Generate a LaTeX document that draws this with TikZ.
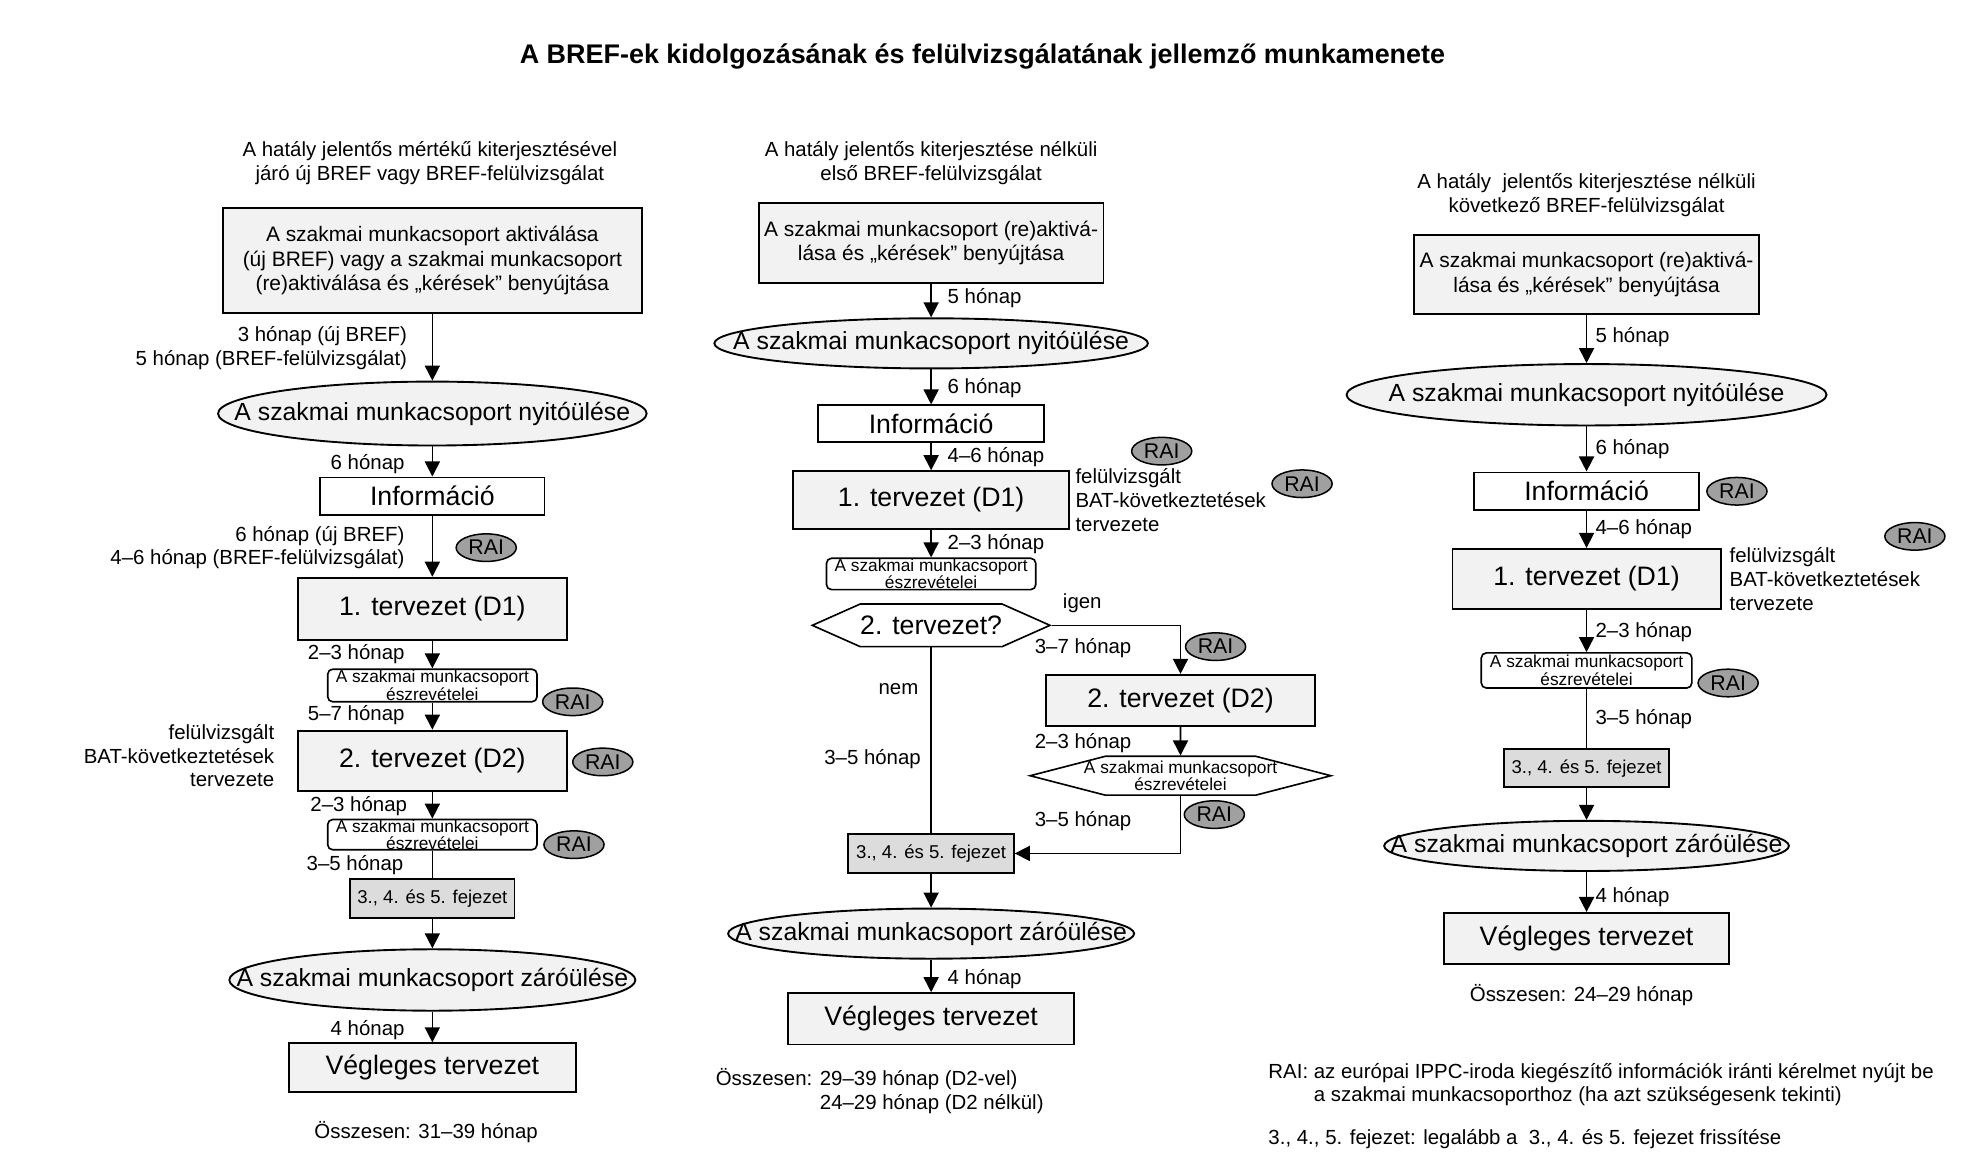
\documentclass[tikz,border=0pt]{standalone}
\usepackage{fontspec}
\setmainfont{Liberation Sans}
\usetikzlibrary{shapes.geometric,shapes.symbols,arrows.meta}
\definecolor{boxgray}{HTML}{F2F2F2}
\definecolor{chapgray}{HTML}{DCDCDC}
\definecolor{raigray}{HTML}{A0A0A0}

\begin{document}
\begin{tikzpicture}[x=1pt,y=-1pt]
            \tikzstyle{every node}=[inner sep=0pt]
            \tikzstyle{lbl}=[font=\fontsize{16.3}{19}\selectfont]
            \tikzstyle{box}=[draw,line width=1.5pt,fill=boxgray,font=\fontsize{21.3}{24}\selectfont]
            \tikzstyle{startbox}=[box,align=center,font=\fontsize{16.7}{19.5}\selectfont]
            \tikzstyle{infobox}=[box,fill=white]
            \tikzstyle{meeting}=[ellipse,draw,line width=1.5pt,fill=boxgray,inner xsep=-50pt,font=\fontsize{19.8}{23}\selectfont]
            \tikzstyle{remarks}=[draw,line width=1.3pt,rounded corners=4pt,fill=white,align=center,font=\fontsize{13.8}{10.5}\selectfont]
            \tikzstyle{chapters}=[draw,line width=1.5pt,fill=chapgray,font=\fontsize{14.8}{17}\selectfont]
            \tikzstyle{rai}=[ellipse,draw,line width=1.2pt,fill=raigray,minimum width=48pt,minimum height=22pt,font=\fontsize{17}{19}\selectfont]
            \tikzstyle{hexa}=[signal,signal to=east and west,draw,line width=1.3pt,fill=white,align=center]
            \tikzstyle{arr}=[line width=1.3pt,-{Triangle[length=12pt,width=12pt]}]
            \tikzstyle{con}=[line width=1.3pt]
            \useasboundingbox (0,0) rectangle (1568,936);
            \node[font=\bfseries\fontsize{21.5}{24}\selectfont] (title) at (784,45) {A BREF-ek kidolgozásának és felülvizsgálatának jellemző munkamenete};

            \node[lbl,align=center] (ahead) at (343,130) {A hatály jelentős mértékű kiterjesztésével\\járó új BREF vagy BREF-felülvizsgálat};
            \node[startbox,minimum width=334pt,minimum height=84pt] (a1) at (345,208) {A szakmai munkacsoport aktiválása\\(új BREF) vagy a szakmai munkacsoport\\(re)aktiválása és „kérések” benyújtása};
            \node[meeting,minimum width=342pt,minimum height=51pt] (a2) at (345,330) {A szakmai munkacsoport nyitóülése};
            \node[infobox,minimum width=179pt,minimum height=30pt] (a3) at (345,396) {Információ};
            \node[box,minimum width=215pt,minimum height=50pt] (a4) at (345,486) {1. tervezet (D1)};
            \node[remarks,minimum width=167pt,minimum height=26pt] (a5) at (345,547) {A szakmai munkacsoport\\észrevételei};
            \node[box,minimum width=215pt,minimum height=48pt] (a6) at (345,607) {2. tervezet (D2)};
            \node[remarks,minimum width=167pt,minimum height=23pt] (a7) at (345,666) {A szakmai munkacsoport\\észrevételei};
            \node[chapters,minimum width=131pt,minimum height=31pt] (a8) at (345,717) {3., 4. és 5. fejezet};
            \node[meeting,minimum width=324pt,minimum height=49pt] (a9) at (345,782) {A szakmai munkacsoport záróülése};
            \node[box,minimum width=229pt,minimum height=39pt] (a10) at (345,852) {Végleges tervezet};
            \draw[arr] (a1) -- (a2);
            \draw[arr] (a2) -- (a3);
            \draw[arr] (a3) -- (a4);
            \draw[arr] (a4) -- (a5);
            \draw[arr] (a5) -- (a6);
            \draw[arr] (a6) -- (a7);
            \draw[con] (a7) -- (a8);
            \draw[arr] (a8) -- (a9);
            \draw[arr] (a9) -- (a10);
            \node[lbl,align=right,anchor=east] (at1) at (325,278) {3 hónap (új BREF)\\5 hónap (BREF-felülvizsgálat)};
            \node[lbl,anchor=east] (at2) at (323,370) {6 hónap};
            \node[lbl,align=right,anchor=east] (at3) at (323,437) {6 hónap (új BREF)\\4–6 hónap (BREF-felülvizsgálat)};
            \node[lbl,anchor=east] (at4) at (323,522) {2–3 hónap};
            \node[lbl,anchor=east] (at5) at (323,571) {5–7 hónap};
            \node[lbl,align=right,anchor=east] (abat) at (219,603) {felülvizsgált\\BAT-következtetések\\tervezete};
            \node[lbl,anchor=east] (at6) at (325,643) {2–3 hónap};
            \node[lbl,anchor=east] (at7) at (322,690) {3–5 hónap};
            \node[lbl,anchor=east] (at8) at (323,822) {4 hónap};
            \node[rai] (ar1) at (388,437) {RAI};
            \node[rai] (ar2) at (457,560) {RAI};
            \node[rai] (ar3) at (481,608) {RAI};
            \node[rai] (ar4) at (458,674) {RAI};
            \node[lbl] (asum) at (340,903) {Összesen: 31–39 hónap};

            \node[lbl,align=center] (bhead) at (743,130) {A hatály jelentős kiterjesztése nélküli\\első BREF-felülvizsgálat};
            \node[startbox,minimum width=275pt,minimum height=64pt] (b1) at (743,194) {A szakmai munkacsoport (re)aktivá-\\lása és „kérések” benyújtása};
            \node[meeting,minimum width=346pt,minimum height=40pt] (b2) at (743,274) {A szakmai munkacsoport nyitóülése};
            \node[infobox,minimum width=180pt,minimum height=29pt] (b3) at (743,338) {Információ};
            \node[box,minimum width=220pt,minimum height=46pt] (b4) at (743,399) {1. tervezet (D1)};
            \node[remarks,minimum width=167pt,minimum height=25pt] (b5) at (743,458) {A szakmai munkacsoport\\észrevételei};
            \node[hexa,signal pointer angle=48,minimum width=189pt,minimum height=34pt,font=\fontsize{21.3}{24}\selectfont] (b6) at (743,499) {2. tervezet?};
            \node[box,minimum width=215pt,minimum height=41pt] (b7) at (942,559) {2. tervezet (D2)};
            \node[hexa,signal pointer angle=29,inner xsep=-35pt,minimum width=240pt,minimum height=31pt,font=\fontsize{13.8}{10.5}\selectfont] (b8) at (942,619) {A szakmai munkacsoport\\észrevételei};
            \node[chapters,minimum width=132pt,minimum height=31pt] (b9) at (743,681) {3., 4. és 5. fejezet};
            \node[meeting,minimum width=324pt,minimum height=40pt] (b10) at (743,745) {A szakmai munkacsoport záróülése};
            \node[box,minimum width=228pt,minimum height=41pt] (b11) at (743,813) {Végleges tervezet};
            \draw[arr] (b1) -- (b2);
            \draw[arr] (b2) -- (b3);
            \draw[arr] (b3) -- (b4);
            \draw[arr] (b4) -- (b5);
            \draw[arr] (b6.east) -| (b7.north);
            \draw[arr] (b7) -- (b8);
            \draw[arr] (b8.south) |- (b9.east);
            \draw[con] (b6.south) -- (b9.north);
            \draw[arr] (b9) -- (b10);
            \draw[arr] (b10) -- (b11);
            \node[lbl,anchor=west] (bt1) at (756,238) {5 hónap};
            \node[lbl,anchor=west] (bt2) at (756,310) {6 hónap};
            \node[lbl,anchor=west] (bt3) at (756,365) {4–6 hónap};
            \node[lbl,align=left,anchor=west] (bbat) at (858,399) {felülvizsgált\\BAT-következtetések\\tervezete};
            \node[lbl,anchor=west] (bt4) at (756,434) {2–3 hónap};
            \node[lbl,anchor=west] (byes) at (848,481) {igen};
            \node[lbl,anchor=east] (bt5) at (903,517) {3–7 hónap};
            \node[lbl,anchor=east] (bno) at (733,550) {nem};
            \node[lbl,anchor=east] (bt6) at (735,606) {3–5 hónap};
            \node[lbl,anchor=east] (bt7) at (903,593) {2–3 hónap};
            \node[lbl,anchor=east] (bt8) at (903,655) {3–5 hónap};
            \node[lbl,anchor=west] (bt9) at (756,781) {4 hónap};
            \node[rai] (br1) at (927,360) {RAI};
            \node[rai] (br2) at (1039,386) {RAI};
            \node[rai] (br3) at (970,516) {RAI};
            \node[rai] (br4) at (969,650) {RAI};
            \node[lbl,anchor=west] (bsum) at (571,872) {\begin{tabular}{@{}l@{ }l@{}}Összesen: & 29–39 hónap (D2-vel)\\ & 24–29 hónap (D2 nélkül)\end{tabular}};

            \node[lbl,align=center] (chead) at (1266,156) {A hatály \ jelentős kiterjesztése nélküli\\következő BREF-felülvizsgálat};
            \node[startbox,minimum width=275pt,minimum height=63pt] (c1) at (1266,219) {A szakmai munkacsoport (re)aktivá-\\lása és „kérések” benyújtása};
            \node[meeting,minimum width=383pt,minimum height=49pt] (c2) at (1266,315) {A szakmai munkacsoport nyitóülése};
            \node[infobox,minimum width=179pt,minimum height=30pt] (c3) at (1266,392) {Információ};
            \node[box,minimum width=214pt,minimum height=48pt] (c4) at (1266,462) {1. tervezet (D1)};
            \node[remarks,minimum width=168pt,minimum height=28pt] (c5) at (1266,535) {A szakmai munkacsoport\\észrevételei};
            \node[chapters,minimum width=132pt,minimum height=30pt] (c6) at (1266,613) {3., 4. és 5. fejezet};
            \node[meeting,minimum width=323pt,minimum height=40pt] (c7) at (1266,675) {A szakmai munkacsoport záróülése};
            \node[box,minimum width=228pt,minimum height=41pt] (c8) at (1266,749) {Végleges tervezet};
            \draw[arr] (c1) -- (c2);
            \draw[arr] (c2) -- (c3);
            \draw[arr] (c3) -- (c4);
            \draw[arr] (c4) -- (c5);
            \draw[con] (c5) -- (c6);
            \draw[arr] (c6) -- (c7);
            \draw[arr] (c7) -- (c8);
            \node[lbl,anchor=west] (ct1) at (1273,269) {5 hónap};
            \node[lbl,anchor=west] (ct2) at (1273,358) {6 hónap};
            \node[lbl,anchor=west] (ct3) at (1273,422) {4–6 hónap};
            \node[lbl,align=left,anchor=west] (cbat) at (1380,462) {felülvizsgált\\BAT-következtetések\\tervezete};
            \node[lbl,anchor=west] (ct4) at (1273,504) {2–3 hónap};
            \node[lbl,anchor=west] (ct5) at (1273,574) {3–5 hónap};
            \node[lbl,anchor=west] (ct6) at (1273,716) {4 hónap};
            \node[rai] (cr1) at (1386,392) {RAI};
            \node[rai] (cr2) at (1528,428) {RAI};
            \node[rai] (cr3) at (1379,545) {RAI};
            \node[lbl] (csum) at (1262,794) {Összesen: 24–29 hónap};

            \node[lbl,anchor=west] (legrai) at (1012,866) {\begin{tabular}{@{}l@{ }l@{}}RAI: & az európai IPPC-iroda kiegészítő információk iránti kérelmet nyújt be\\ & a szakmai munkacsoporthoz (ha azt szükségesenk tekinti)\end{tabular}};
            \node[lbl,anchor=west] (legchap) at (1012,909) {3., 4., 5. fejezet: legalább a \ 3., 4. és 5. fejezet frissítése};
\end{tikzpicture}
\end{document}
